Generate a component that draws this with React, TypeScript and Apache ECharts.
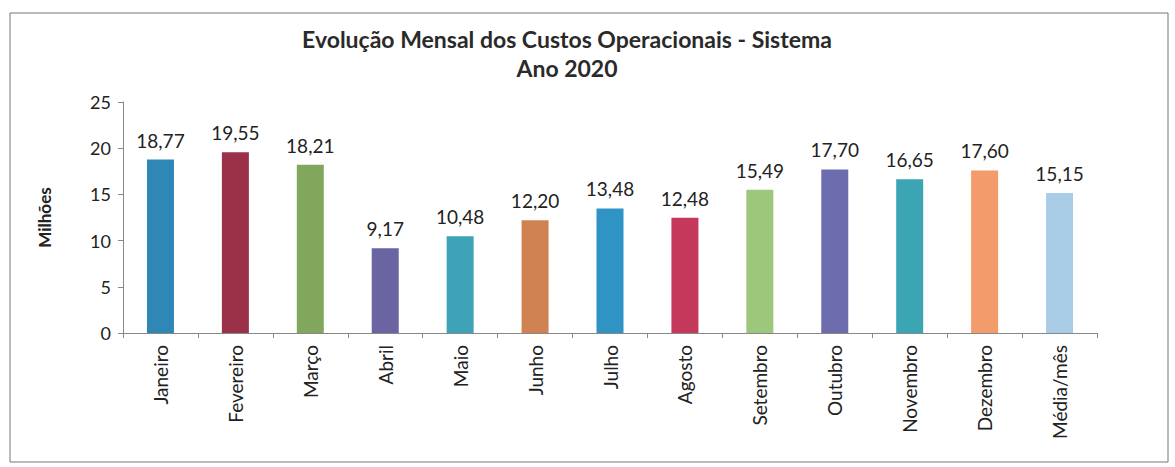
import React, { useEffect, useRef } from "react";
import * as echarts from "echarts";

const categories = ["Janeiro", "Fevereiro", "Março", "Abril", "Maio", "Junho", "Julho", "Agosto", "Setembro", "Outubro", "Novembro", "Dezembro", "Média/mês"];
const values = [18.77, 19.55, 18.21, 9.17, 10.48, 12.2, 13.48, 12.48, 15.49, 17.7, 16.65, 17.6, 15.15];
const barColors = ["#2E87B5", "#9A3149", "#80A75B", "#6A64A2", "#3FA3B8", "#D08252", "#2F93C3", "#C4395B", "#9DC77B", "#6D6CAF", "#3BA5B3", "#F39B6B", "#A9CDE6"];
const titleLines = ["Evolução Mensal dos Custos Operacionais - Sistema", "Ano 2020"];
const yAxisName = "Milhões";

export default function App() {
  const ref = useRef<HTMLDivElement>(null);
  useEffect(() => {
    if (!ref.current) return;
    const chart = echarts.init(ref.current, null, { renderer: "svg" });
    const font = "Lato, 'Open Sans', sans-serif";
    chart.setOption({
      animation: false,
      backgroundColor: "#ffffff",
      textStyle: { fontFamily: font },
      title: {
        text: titleLines.join("\n"),
        left: 562,
        top: 19,
        textAlign: "center",
        textStyle: { fontFamily: font, fontSize: 23, fontWeight: "bold", color: "#2a2a2a", lineHeight: 29 },
      },
      graphic: [
        {
          type: "rect",
          shape: { x: 10, y: 13, width: 1158, height: 449 },
          style: { fill: "none", stroke: "#777", lineWidth: 1 },
          silent: true,
        },
      ],
      grid: { left: 123, top: 102, right: 78, bottom: 134, containLabel: false },
      xAxis: {
        type: "category",
        data: categories,
        axisLine: { lineStyle: { color: "#888" } },
        axisTick: { show: true, length: 5, lineStyle: { color: "#888" } },
        axisLabel: { rotate: 90, fontSize: 19, color: "#222", margin: 12, fontFamily: font },
      },
      yAxis: {
        type: "value",
        min: 0,
        max: 25,
        interval: 5,
        name: yAxisName,
        nameLocation: "middle",
        nameGap: 70,
        nameTextStyle: { fontSize: 17, fontWeight: "bold", color: "#222", fontFamily: font },
        axisLine: { show: true, lineStyle: { color: "#888" } },
        axisTick: { show: true, length: 5, lineStyle: { color: "#888" } },
        axisLabel: { fontSize: 18, color: "#222", margin: 12, fontFamily: font },
        splitLine: { show: false },
      },
      series: [
        {
          type: "bar",
          barWidth: 27,
          data: values.map((v, i) => ({ value: v, itemStyle: { color: barColors[i] } })),
          label: {
            show: true,
            position: "top",
            distance: 10,
            fontSize: 19,
            color: "#222",
            fontFamily: font,
            formatter: (p: any) => p.value.toFixed(2).replace(".", ","),
          },
        },
      ],
    });
    return () => chart.dispose();
  }, []);
  return <div ref={ref} style={{ position: "fixed", left: 0, top: 0, width: 1175, height: 467 }} />;
}
